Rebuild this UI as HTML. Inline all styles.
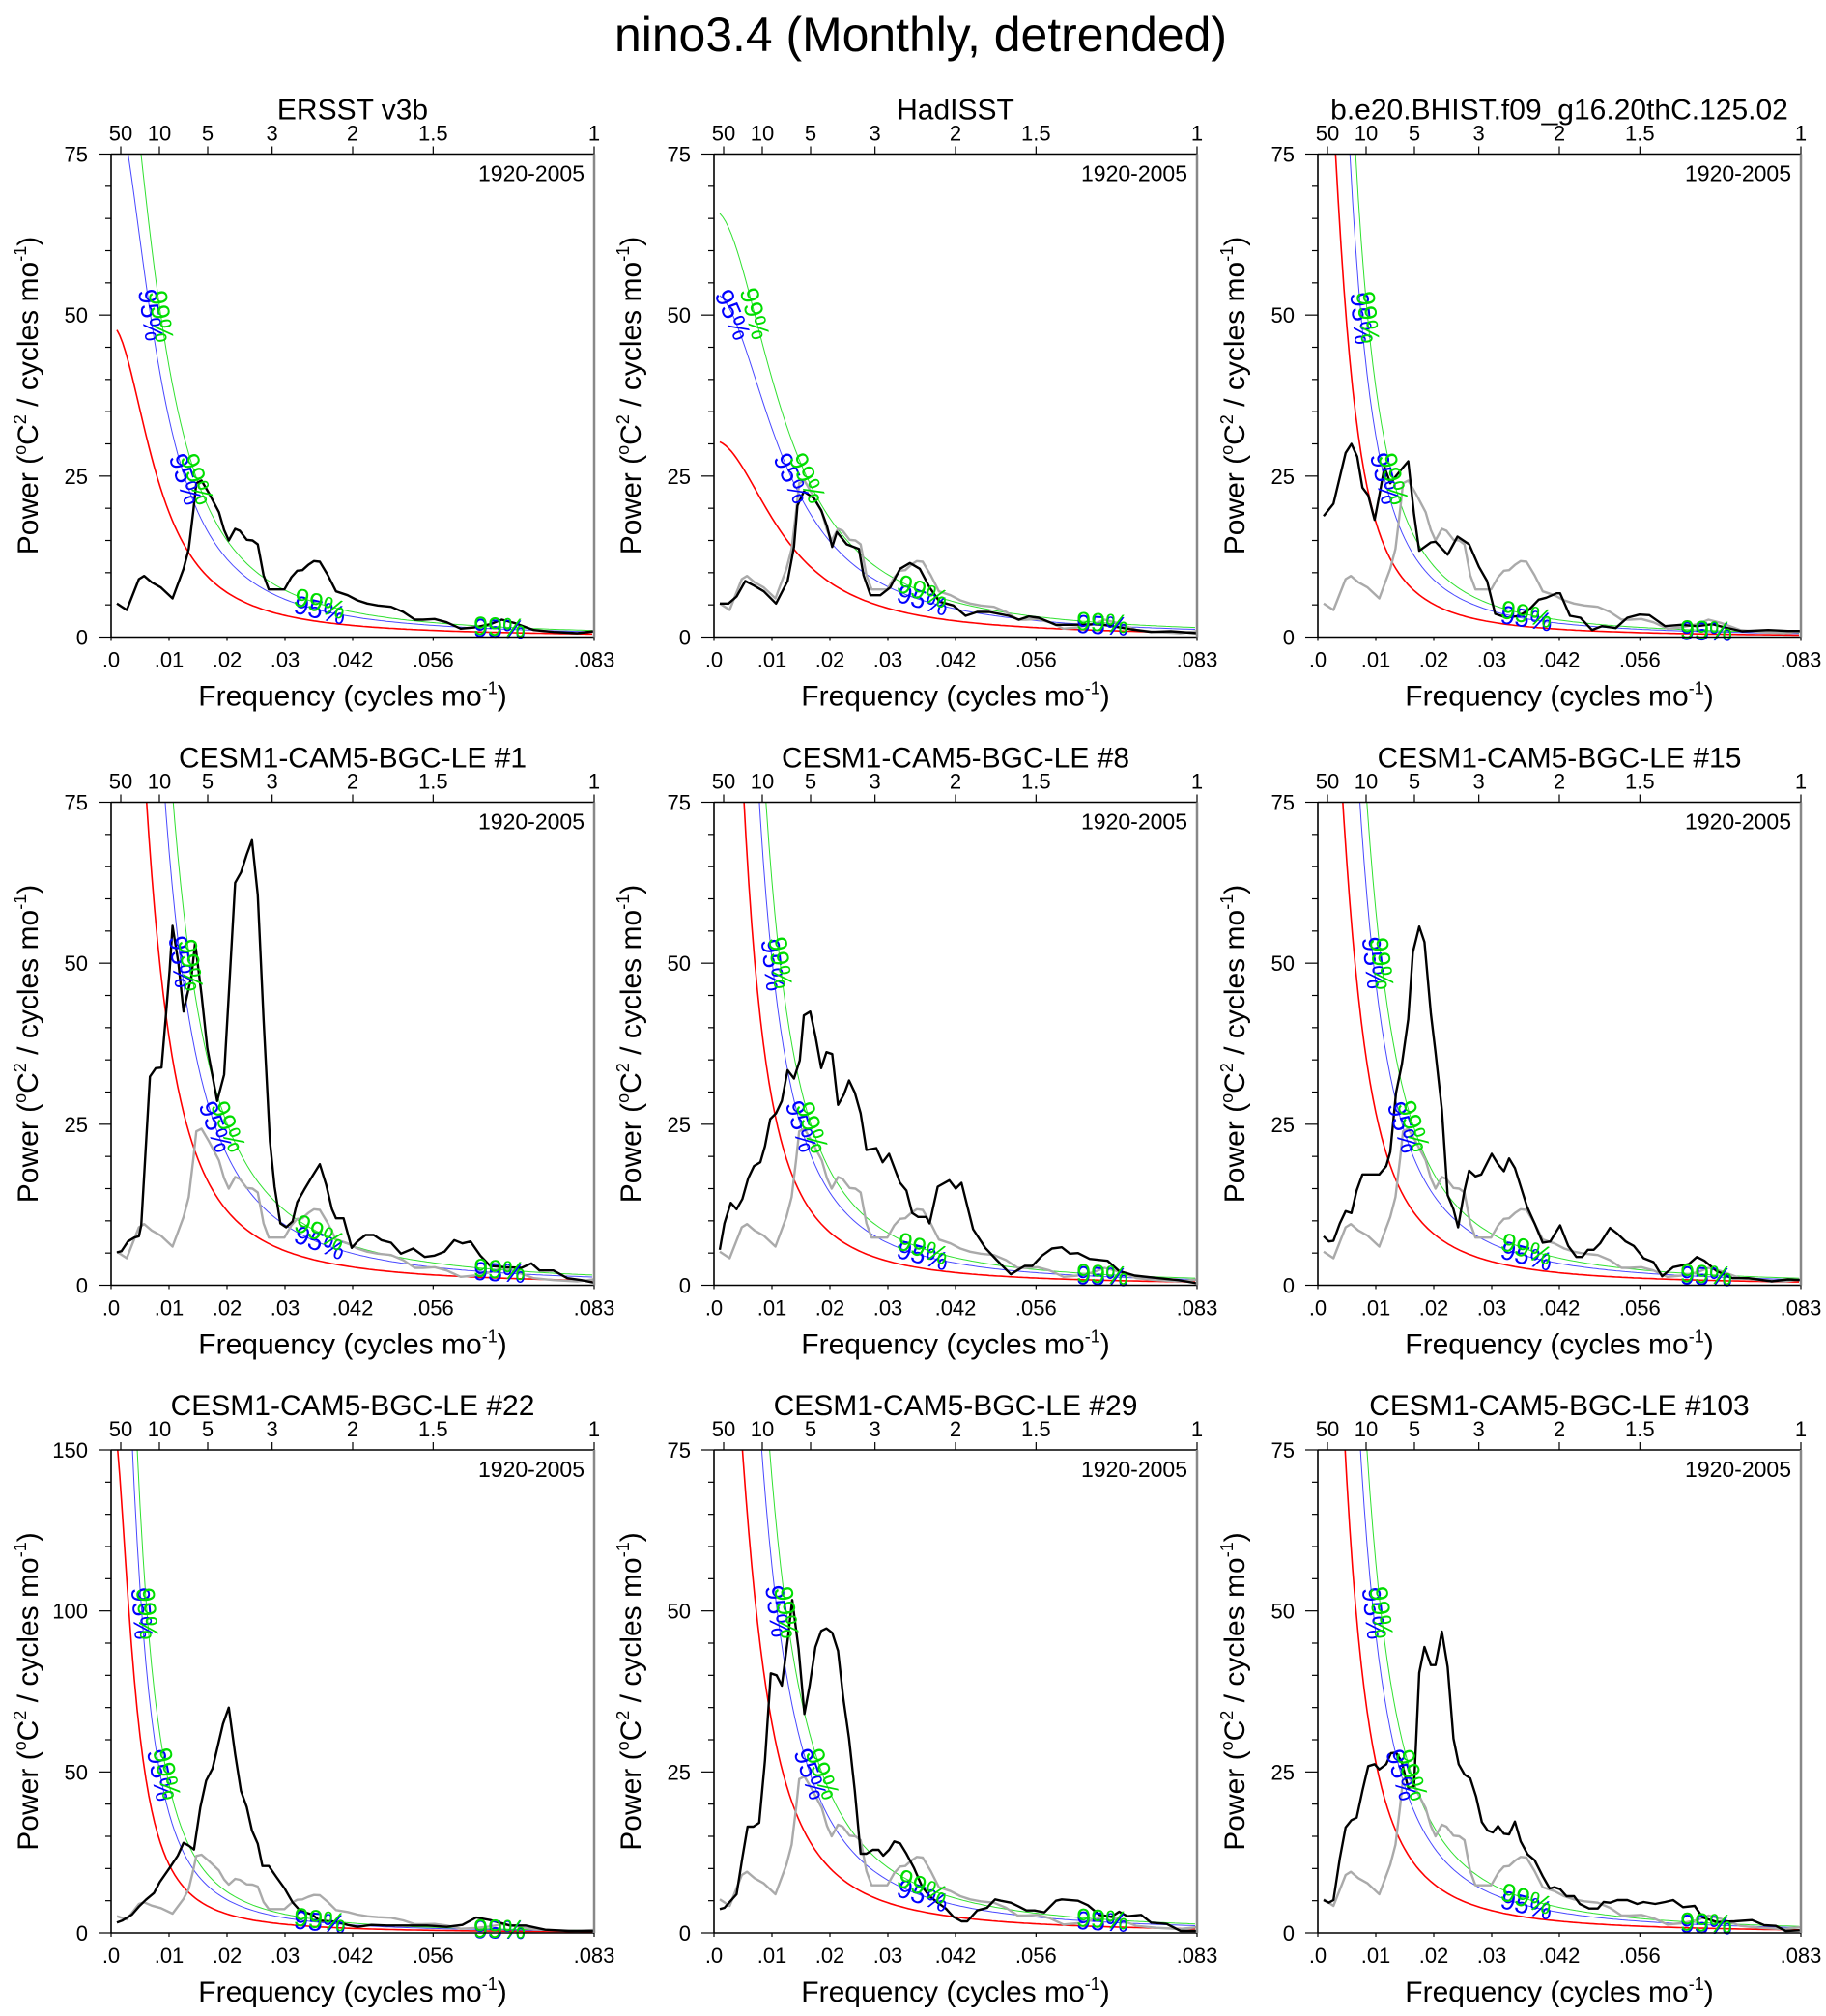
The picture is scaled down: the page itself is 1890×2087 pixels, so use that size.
<!DOCTYPE html>
<html><head><meta charset="utf-8"><style>
html,body{margin:0;padding:0;background:#fff}
svg{display:block;font-family:"Liberation Sans",sans-serif}
</style></head><body>
<svg id="fig" width="1890" height="2087" viewBox="0 0 1890 2087" xmlns="http://www.w3.org/2000/svg">
<text x="953" y="53" font-size="50" text-anchor="middle" textLength="634" lengthAdjust="spacingAndGlyphs">nino3.4 (Monthly, detrended)</text>
</svg>
<script>
// ---- data ----
const panelTitles = ["ERSST v3b","HadISST","b.e20.BHIST.f09_g16.20thC.125.02","CESM1-CAM5-BGC-LE #1","CESM1-CAM5-BGC-LE #8","CESM1-CAM5-BGC-LE #15","CESM1-CAM5-BGC-LE #22","CESM1-CAM5-BGC-LE #29","CESM1-CAM5-BGC-LE #103"];
const yMaxes = [75,75,75,75,75,75,150,75,75];
const redA = [0.121,0.1716,0.0817,0.189,0.132,0.130,0.094,0.166,0.1225];
const redR = [0.95,0.925,0.973,0.967,0.973,0.968,0.976,0.964,0.972];
const sig95 = 1.75;
const sig99 = 2.17;
const xTickVals = [0,0.01,0.02,0.03,1/24,1/18,1/12];
const xTickLabels = [".0",".01",".02",".03",".042",".056",".083"];
const periodVals = [50,10,5,3,2,1.5,1];
const periodLabels = ["50","10","5","3","2","1.5","1"];

const freqERSST = [.001,.0027,.0048,.0057,.007,.0086,.0106,.0125,.0134,.0142,.0147,.0156,.0169,.0186,.0195,.0203,.0214,.0222,.0234,.0244,.0253,.0263,.0272,.0299,.0311,.0321,.033,.034,.035,.036,.0374,.0388,.0408,.0425,.0442,.046,.0483,.0504,.0524,.0538,.0558,.0579,.0603,.0627,.0654,.0674,.0695,.0729,.0763,.0804,.0833];
const powERSST = [5.2,4.2,9.0,9.5,8.5,7.7,6.0,10.6,13.7,19.7,23.9,24.3,22.3,19.4,16.6,15,16.8,16.5,15.1,15,14.4,9.6,7.4,7.4,9.3,10.3,10.4,11.2,11.8,11.7,9.6,7.1,6.5,5.7,5.2,4.9,4.7,3.9,2.7,2.7,2.8,2.3,1.3,1.5,2.0,2.7,2.2,1.1,0.8,0.6,0.9];

const freqHad = [.001,.0025,.0039,.0054,.0069,.0086,.0107,.0127,.0138,.0144,.0155,.0172,.0185,.0195,.0204,.0212,.0229,.025,.0258,.027,.0287,.0304,.0321,.0338,.0355,.0372,.0389,.0413,.0434,.0454,.0475,.0509,.0526,.0543,.056,.059,.0618,.0665,.0686,.072,.0754,.0788,.0833];
const powHad = [5.2,5.2,6.3,8.7,8,7.1,5.2,8.7,14,20.4,22.6,21.6,19.7,17.2,14,16.3,14.4,13.7,9.6,6.5,6.5,7.7,10.6,11.5,10.6,7.7,5.5,4.9,3.3,3.9,3.9,3.3,2.7,3.2,3,1.9,1.9,2,1.7,1.2,0.8,0.9,0.6];

const freqB125 = [.001,.0027,.0048,.0058,.0068,.0077,.0087,.0098,.0108,.0115,.0125,.0142,.0156,.0166,.0175,.0195,.0203,.0224,.0241,.0261,.0278,.0292,.0306,.0326,.0347,.0364,.0381,.0394,.0412,.0418,.0435,.0453,.0473,.049,.0514,.0534,.0555,.0572,.0599,.0627,.0654,.0681,.0702,.0732,.0777,.0811,.0833];
const powB125 = [18.8,20.7,28.6,30,28,23.2,22,18.2,22.9,26.4,23.9,25.8,27.3,19.1,13.4,14.7,14.8,12.8,15.6,14.4,10.9,8.7,3.6,3,3.3,4.2,5.8,6.1,6.8,6.8,3.3,3,1.1,1.7,1.4,3,3.5,3.4,1.7,1.9,1.7,2,1.5,0.9,1.1,0.95,0.95];

const freqLE1 = [.001,.0018,.0029,.004,.0048,.0052,.0067,.0077,.0087,.0094,.0101,.0106,.0116,.0125,.0139,.0145,.0156,.0166,.0183,.0195,.0203,.0214,.0224,.0234,.0243,.0253,.0263,.0274,.0282,.0292,.0302,.0313,.0321,.0333,.0347,.036,.0371,.0381,.0388,.0401,.0415,.0425,.0439,.0453,.0466,.0483,.05,.0521,.0541,.0558,.0575,.0592,.0606,.062,.0637,.0654,.0681,.0708,.0725,.0739,.0763,.0787,.0811,.0833];
const powLE1 = [5.1,5.3,6.8,7.4,7.6,9.3,32.4,33.7,33.8,41.3,48.9,55.8,50.1,42.5,48.2,53.2,45.1,36.8,28.6,32.7,45.1,62.5,64.1,66.9,69.1,60.6,41.3,22.3,15.3,9.6,9,9.9,12.9,14.8,16.9,18.8,15.6,11.8,10.4,10.4,5.8,6.8,7.8,7.8,7,6.6,4.9,5.7,4.4,4.6,5.2,7,6.5,6.8,4.6,3,2.8,2.7,3.4,2.3,2.3,1.1,0.8,0.4];

const freqLE8 = [.001,.0018,.0029,.0039,.0049,.0059,.0069,.008,.0088,.0097,.0107,.0117,.0127,.0138,.0148,.0155,.0166,.0175,.0185,.0194,.0204,.0214,.0224,.0233,.0243,.0253,.0263,.028,.0291,.0302,.0321,.0332,.0342,.0352,.0366,.0372,.0386,.0406,.0417,.0427,.0447,.0468,.0488,.0512,.0536,.0549,.0566,.0583,.06,.0614,.0628,.0648,.0679,.0699,.0726,.0767,.0801,.0833];
const powLE8 = [5.5,9.6,12.8,11.8,13.4,16.6,18.5,19.1,21.6,25.8,26.7,28.6,33.4,32.1,34.9,41.9,42.5,38.7,33.7,36.2,35.9,28,29.6,31.8,29.9,26.7,21,21.3,19.1,20.4,15.9,14.7,11.2,10.6,10.6,9.6,15.3,16.3,15,15.9,8.7,5.8,3.9,1.7,3,3,4.6,5.7,5.9,4.9,5,4.1,3.8,2.2,1.5,1.1,0.8,0.3];

const freqLE15 = [.001,.0019,.0027,.0038,.0048,.0058,.0067,.0077,.0106,.0118,.0125,.0135,.0145,.0156,.0164,.0175,.0184,.0195,.0203,.0214,.0224,.0234,.0242,.0253,.0261,.0272,.0282,.03,.0311,.0321,.033,.034,.0361,.0374,.0388,.0401,.0418,.0432,.0446,.0456,.0466,.0476,.0487,.0504,.0517,.0531,.0545,.0562,.0579,.0594,.0613,.064,.0654,.0667,.0688,.0715,.0743,.0783,.0811,.0833];
const powLE15 = [7.6,6.8,6.9,9.6,11.5,11.2,14.7,17.2,17.2,18.5,20.7,29.9,34.3,41.3,51.7,55.7,53.3,42.2,36.2,27.3,14,11.8,9,14.7,17.8,16.9,17.2,20.4,18.8,17.7,19.7,18.2,12.2,9.6,6.6,6.8,9.3,6.1,4.4,4.4,5.5,5.5,6.5,8.9,8,6.8,6.1,4.2,3.6,1.4,2.8,3.3,4.4,3.8,2.2,1.1,1.1,0.6,0.9,0.8];

const freqLE22 = [.001,.0019,.0036,.0048,.006,.0074,.0084,.0101,.0115,.0125,.0134,.0143,.0154,.0164,.0175,.0184,.0193,.0203,.0214,.0224,.0234,.0243,.0253,.0261,.0272,.0285,.0299,.0313,.0326,.0347,.036,.0388,.0408,.0425,.0449,.0476,.051,.0545,.0579,.0606,.063,.0654,.0688,.0715,.0749,.079,.0833];
const powLE22 = [3.2,3.8,5.7,8.2,10.3,12.4,15.8,20.2,24,28,27.1,25.9,39.1,47.3,51.1,58,64.9,70,55.5,44.1,39.1,31.8,27.7,20.8,20.8,17.4,13.9,9.5,6.9,5.7,3.8,3.5,2.5,1.9,2.5,2.3,2.3,2.3,1.9,2.5,4.8,4,2.3,2.3,1,0.6,0.6];

const freqLE29 = [.001,.0018,.0029,.0039,.0049,.0058,.0068,.0078,.0088,.0098,.0108,.0117,.0127,.0135,.0146,.0156,.0165,.0175,.0185,.0194,.0204,.0214,.0223,.0233,.0243,.0253,.0263,.0274,.0284,.0292,.0302,.0311,.0321,.0332,.0345,.0359,.0372,.0386,.04,.0413,.0427,.0437,.0454,.0471,.0485,.0495,.0512,.0526,.0539,.0553,.057,.059,.06,.0628,.0645,.0665,.0686,.0699,.0713,.0737,.0754,.0781,.0805,.0833];
const powLE29 = [3.7,3.9,5,6,11.7,16.5,16.5,17.1,26.8,40.3,40,38.4,45.4,51.7,44.1,34,38.4,44.4,46.9,47.3,46.6,43.8,36.5,30.2,22,12.3,12.3,12.9,12.9,12,12.9,14.2,13.9,12.3,10.1,7.2,5.7,4.7,3.8,2.5,1.8,1.8,3.5,3.9,5.2,5,4.7,4.1,3.5,3.5,3.2,5,5.2,5,4.3,2.8,2.5,3.3,2.6,2.8,1.6,1.4,0.3,0.3];

const freqLE103 = [.001,.0019,.0027,.0038,.0048,.0058,.0067,.0077,.0087,.0098,.0106,.0118,.0126,.0135,.0145,.0156,.0166,.0175,.0184,.0195,.0203,.0214,.0224,.0234,.0243,.0253,.0263,.0273,.0283,.0293,.0302,.0311,.0321,.033,.034,.035,.0362,.0374,.0388,.04,.0408,.0418,.0429,.0442,.0452,.0468,.0483,.0493,.0504,.0517,.0534,.0551,.0562,.0582,.0599,.0613,.063,.065,.0664,.0688,.0719,.0749,.077,.079,.0807,.0833];
const powLE103 = [5.1,4.7,5.1,11.6,16.4,17.5,17.9,22.1,25.9,26.2,25.4,26.2,27.9,28,26.5,22.5,22.8,40.4,44.4,41.6,41.6,46.8,41.3,30.2,26.2,24.6,24,21.2,17.2,15.9,15.6,16.6,15.4,15.3,17.3,14.2,12.2,11.3,8.8,6.9,7.1,6.8,5.7,5.7,4.5,3.8,3.8,4.8,4.7,5.1,5.1,4.5,4.8,4.5,4.8,5.1,4,4.2,2.4,1.7,1.8,2,1.2,1.1,0.3,0.4];

const panelFreqs = [freqERSST,freqHad,freqB125,freqLE1,freqLE8,freqLE15,freqLE22,freqLE29,freqLE103];
const panelPows = [powERSST,powHad,powB125,powLE1,powLE8,powLE15,powLE22,powLE29,powLE103];
const showGray = [false,true,true,true,true,true,true,true,true];

// ---- layout ----
const NS = "http://www.w3.org/2000/svg";
const svg = document.getElementById('fig');
const colX = [115,739,1364];
const rowY = [159.5,830.5,1501];
const PW = 500, PH = 500, FMAX = 1/12;

function mk(tag, attrs, parent){
  const e = document.createElementNS(NS, tag);
  for (const k in attrs) e.setAttribute(k, attrs[k]);
  (parent||svg).appendChild(e);
  return e;
}
function redNoise(i, f){
  const r = redR[i];
  return redA[i]/(1 + r*r - 2*r*Math.cos(2*Math.PI*f));
}

for (let i=0;i<9;i++){
  const L = colX[i%3], T = rowY[Math.floor(i/3)], B = T+PH, R = L+PW;
  const ymax = yMaxes[i];
  const xs = f => L + f/FMAX*PW;
  const ys = v => B - v/ymax*PH;
  const g = mk('g', {});
  
  
  const cp = mk('clipPath', {id:'clip'+i}, g);
  mk('rect', {x:L, y:T, width:PW, height:PH}, cp);
  const plot = mk('g', {'clip-path':'url(#clip'+i+')'}, g);

  const curves = [[1,'#ff0000','red-noise-curve'],[sig95,'#4848ff','ci-95-curve'],[sig99,'#30e030','ci-99-curve']];
  for (const [k,col,nm] of curves){
    let d = '';
    for (let f=0.001; f<=FMAX+1e-9; f+=0.0005){
      d += (d?'L':'M') + xs(f).toFixed(1)+','+ys(k*redNoise(i,f)).toFixed(1);
    }
    const p = mk('path', {d:d, fill:'none', stroke:col, 'stroke-width': k===1?1.6:1}, plot);
    
    
  }
  if (showGray[i]){
    let d='';
    freqERSST.forEach((f,j)=>{ d += (j?'L':'M')+xs(f).toFixed(1)+','+ys(powERSST[j]).toFixed(1); });
    const p = mk('path', {d:d, fill:'none', stroke:'#aaaaaa', 'stroke-width':2.4, 'stroke-linejoin':'round'}, plot);
    
    
  }
  {
    const fr = panelFreqs[i], pw = panelPows[i];
    let d='';
    fr.forEach((f,j)=>{ d += (j?'L':'M')+xs(f).toFixed(1)+','+ys(pw[j]).toFixed(1); });
    const p = mk('path', {d:d, fill:'none', stroke:'#000', 'stroke-width':2.4, 'stroke-linejoin':'round'}, plot);
    
    
  }
  const labelSpots = [];
  for (const [k,txt,col] of [[sig95,'95%','#0000ff'],[sig99,'99%','#00dd00']]){
    const targets = [ymax*0.67, ymax*0.33];
    for (const v of targets){
      let fsol = null;
      for (let f=0.001; f<FMAX; f+=0.0001){ if (k*redNoise(i,f) <= v){ fsol=f; break; } }
      if (fsol!==null) labelSpots.push([k,fsol,txt,col]);
    }
    labelSpots.push([k,0.036,txt,col]);
    labelSpots.push([k,0.067,txt,col]);
  }
  for (const [k,f,txt,col] of labelSpots){
    const x = xs(f), y = ys(k*redNoise(i,f));
    const x2 = xs(f+0.0004), y2 = ys(k*redNoise(i,f+0.0004));
    const ang = Math.atan2(y2-y, x2-x)*180/Math.PI;
    const t = mk('text', {x:x, y:y, 'font-size':27, fill:col, 'text-anchor':'middle', 'dominant-baseline':'central', transform:'rotate('+ang.toFixed(1)+' '+x.toFixed(1)+' '+y.toFixed(1)+')'}, g);
    t.textContent = txt;
    
    
  }

  mk('line', {x1:L, y1:T, x2:R, y2:T, stroke:'#000', 'stroke-width':1.6}, g);
  mk('line', {x1:L, y1:B, x2:R, y2:B, stroke:'#000', 'stroke-width':1.6}, g);
  mk('line', {x1:L, y1:T, x2:L, y2:B, stroke:'#000', 'stroke-width':1.6}, g);
  mk('line', {x1:R, y1:T, x2:R, y2:B, stroke:'#888', 'stroke-width':2.5}, g);

  const major = ymax===150?50:25, minor = ymax===150?10:5;
  for (let v=0; v<=ymax+1e-9; v+=minor){
    const isMaj = Math.abs(v/major - Math.round(v/major))<1e-6;
    mk('line', {x1:L-(isMaj?13:6), y1:ys(v), x2:L, y2:ys(v), stroke:'#000', 'stroke-width':1.2}, g);
    if (isMaj){
      const t = mk('text', {x:L-24, y:ys(v)+8, 'font-size':22, 'text-anchor':'end'}, g);
      t.textContent = String(v);
      
      
    }
  }
  xTickVals.forEach((f,j)=>{
    mk('line', {x1:xs(f), y1:B, x2:xs(f), y2:B+4, stroke:'#000', 'stroke-width':1.2}, g);
    const t = mk('text', {x:xs(f), y:B+31, 'font-size':22, 'text-anchor':'middle'}, g);
    t.textContent = xTickLabels[j];
    
    
  });
  periodVals.forEach((p,j)=>{
    const f = 1/(12*p);
    mk('line', {x1:xs(f), y1:T, x2:xs(f), y2:T-8, stroke:'#000', 'stroke-width':1.2}, g);
    const t = mk('text', {x:xs(f), y:T-14, 'font-size':22, 'text-anchor':'middle'}, g);
    t.textContent = periodLabels[j];
    
    
  });
  const tt = mk('text', {x:L+PW/2, y:T-36, 'font-size':30, 'text-anchor':'middle'}, g);
  tt.textContent = panelTitles[i];
  
  
  const yr = mk('text', {x:R-10, y:T+28, 'font-size':23, 'text-anchor':'end'}, g);
  yr.textContent = '1920-2005';
  
  
  const xt = mk('text', {x:L+PW/2, y:B+71, 'font-size':30, 'text-anchor':'middle'}, g);
  xt.innerHTML = 'Frequency (cycles mo<tspan dy="-12" font-size="18">-1</tspan><tspan dy="12">)</tspan>';
  
  
  const cx = L-76, cy = T+PH/2;
  const yt = mk('text', {x:cx, y:cy, 'font-size':30, 'text-anchor':'middle', transform:'rotate(-90 '+cx+' '+cy+')'}, g);
  yt.innerHTML = 'Power (<tspan dy="-12" font-size="18">o</tspan><tspan dy="12">C</tspan><tspan dy="-12" font-size="18">2</tspan><tspan dy="12"> / cycles mo</tspan><tspan dy="-12" font-size="18">-1</tspan><tspan dy="12">)</tspan>';
  
  
}
</script>
</body></html>
